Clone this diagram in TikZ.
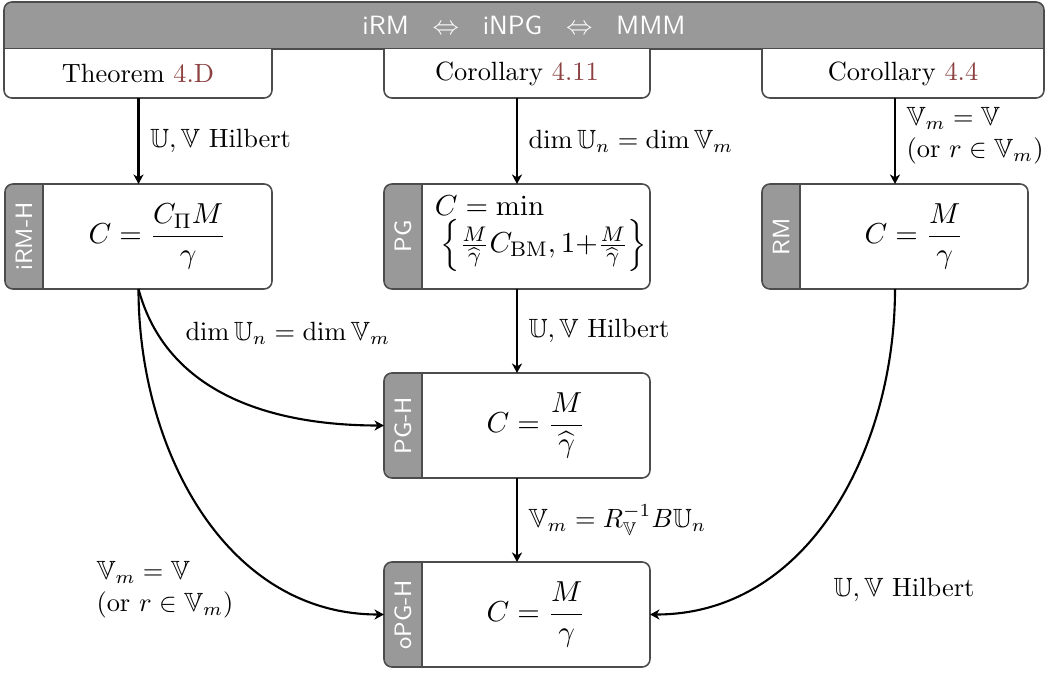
\documentclass[tikz,border=0pt]{standalone}
\usepackage{amsmath,amssymb}
\usetikzlibrary{fit,calc,arrows.meta}
\definecolor{tabgray}{gray}{0.6}
\definecolor{linkred}{RGB}{140,65,65}
\definecolor{boxline}{gray}{0.3}
\newcommand\zTopBox[4]{%
  \node[plain, fit={(#2,49) (#3,98)}] (#1) {};
  \begin{scope}
    \clip (#2-5,49) rectangle (#3+5,110);
    \draw[frame, fill=white, rounded corners=3pt] (#2,20) rectangle (#3,98);
  \end{scope}
  \node (#1t) at (#1.center) {#4};
}
\newcommand\zMainBox[6]{%
  \node[plain, fit={(#2,#3) (#4,#5)}] (#1) {};
  \fill[white, rounded corners=3pt] (#1.north west) rectangle (#1.south east);
  \begin{scope}
    \clip (#1.north west) rectangle ($(#1.south west)+(38,0)$);
    \fill[tabgray, rounded corners=3pt] (#1.north west) rectangle (#1.south east);
  \end{scope}
  \draw[frame] ($(#1.north west)+(38,0)$) -- ($(#1.south west)+(38,0)$);
  \draw[frame, rounded corners=3pt] (#1.north west) rectangle (#1.south east);
  \node[tabtext] (#1tab) at ($(#1.west)+(19,0)$) {#6};
}
\begin{document}
\begin{tikzpicture}[x=0.3788pt,y=-0.3788pt,
  plain/.style={inner sep=0pt, outer sep=0pt},
  frame/.style={draw=boxline, line width=0.6pt},
  conn/.style={-{Stealth[length=3.6pt, width=3.8pt, inset=1.1pt]}, thick},
  lbl/.style={anchor=west, inner sep=0pt, align=left},
  tabtext/.style={rotate=90, text=white, font=\sffamily\small},
  content/.style={font=\fontsize{11}{13}\selectfont}]
\useasboundingbox (0,0) rectangle (1048,673);

% banner
\node[plain, fit={(4,2) (1044,49)}] (banner) {};
\begin{scope}
  \clip (0,0) rectangle (1048,49);
  \draw[frame, fill=tabgray, rounded corners=3pt] (4,2) rectangle (1044,80);
\end{scope}
\draw[frame] (banner.south west) -- (banner.south east);
\node[text=white, font=\sffamily] (bannertext) at (banner.center)
  {iRM\hspace{9pt}$\Leftrightarrow$\hspace{9pt}iNPG\hspace{9pt}$\Leftrightarrow$\hspace{9pt}MMM};

% top boxes
\zTopBox{thm}{4}{272}{Theorem \textcolor{linkred}{4.D}}
\zTopBox{corA}{384}{650}{Corollary \textcolor{linkred}{4.11}}
\zTopBox{corB}{762}{1044}{Corollary \textcolor{linkred}{4.4}}

% main boxes
\zMainBox{irmh}{5}{184}{272}{289}{iRM-H}
\zMainBox{pg}{384}{184}{650}{289}{PG}
\zMainBox{rm}{762}{184}{1028}{289}{RM}
\zMainBox{pgh}{384}{373}{650}{478}{PG-H}
\zMainBox{opgh}{384}{562}{650}{667}{oPG-H}

% contents
\node[content] (irmhc) at ($(irmh.center)+(19,0)$) {$C = \dfrac{C_{\Pi}M}{\gamma}$};
\node[content, align=left] (pgc) at ($(pg.center)+(24,-3)$)
  {$C = \min$\\[1pt]\hspace*{2pt}$\left\{\tfrac{M}{\widehat{\gamma}}C_{\mathrm{BM}},1{+}\tfrac{M}{\widehat{\gamma}}\right\}$};
\node[content] (rmc) at ($(rm.center)+(19,0)$) {$C = \dfrac{M}{\gamma}$};
\node[content] (pghc) at ($(pgh.center)+(19,0)$) {$C = \dfrac{M}{\widehat{\gamma}}$};
\node[content] (opghc) at ($(opgh.center)+(19,0)$) {$C = \dfrac{M}{\gamma}$};

% straight connectors
\draw[conn] (irmh.north |- thm.south) -- node[lbl, xshift=4pt] (l1) {$\mathbb{U},\mathbb{V}$ Hilbert} (irmh.north);
\draw[conn] (corA.south) -- node[lbl, xshift=4pt] (l2) {$\dim\mathbb{U}_n = \dim\mathbb{V}_m$} (pg.north);
\draw[conn] (rm.north |- corB.south) -- node[lbl, xshift=4pt, yshift=2pt] (l3) {$\mathbb{V}_m = \mathbb{V}$\\(or $r\in\mathbb{V}_m$)} (rm.north);
\draw[conn] (pg.south) -- node[lbl, xshift=4pt] (l4) {$\mathbb{U},\mathbb{V}$ Hilbert} (pgh.north);
\draw[conn] (pgh.south) -- node[lbl, xshift=4pt] (l5) {$\mathbb{V}_m = R_{\mathbb{V}}^{-1}B\mathbb{U}_n$} (opgh.north);

% curved connectors
\draw[conn] (irmh.south) to[out=-75, in=180] (pgh.west);
\draw[conn] (irmh.south) to[out=-90, in=180] (opgh.west);
\draw[conn] (rm.south) to[out=-90, in=0] (opgh.east);
\node[lbl] (l6) at (185,333) {$\dim\mathbb{U}_n = \dim\mathbb{V}_m$};
\node[lbl] (l7) at (96,590) {$\mathbb{V}_m = \mathbb{V}$\\(or $r\in\mathbb{V}_m$)};
\node[lbl] (l8) at (833,590) {$\mathbb{U},\mathbb{V}$ Hilbert};
\end{tikzpicture}
\end{document}
